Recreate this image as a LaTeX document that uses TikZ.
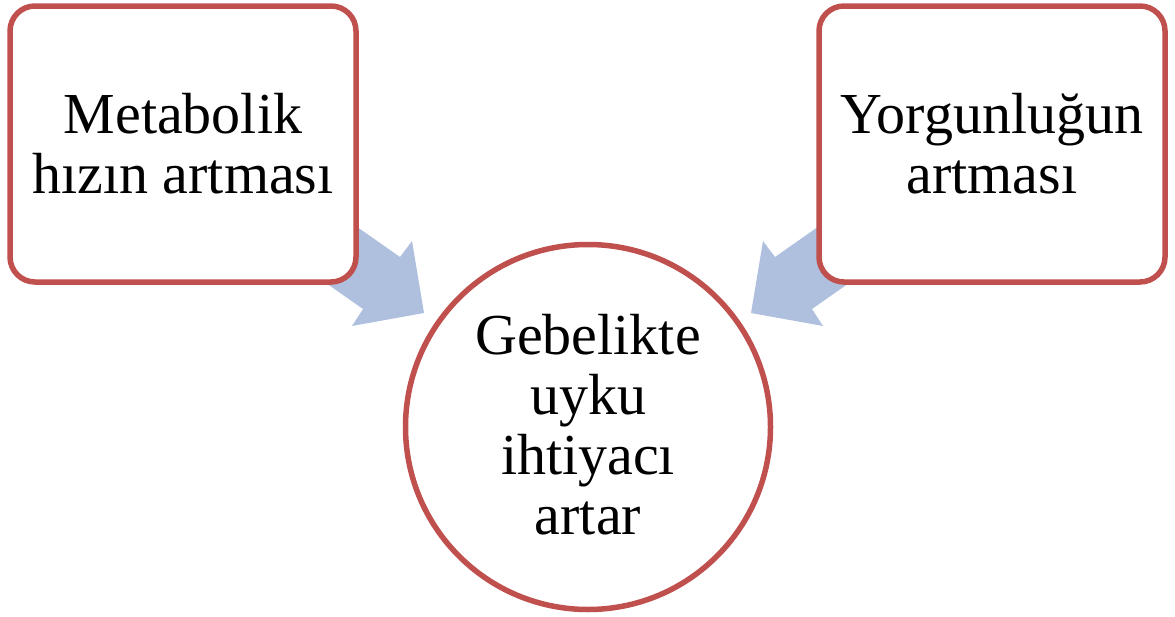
\documentclass[tikz,border=0pt]{standalone}
\usepackage{fontspec}
\setmainfont{Liberation Serif}
\definecolor{boxred}{RGB}{192,80,77}
\definecolor{arrowblue}{RGB}{174,192,221}
\begin{document}
\begin{tikzpicture}[x=1pt,y=-1pt,
  causebox/.style={draw=boxred, line width=5.5pt, fill=white, rounded corners=25pt},
  txt/.style={font=\fontsize{58}{60}\selectfont, align=center, inner sep=0pt, text=black},
  blockarrow/.style={fill=arrowblue, draw=none}]
\useasboundingbox (0,0) rectangle (1175,616);
% block arrows (drawn first, tails hidden under the boxes)
\fill[blockarrow] (318,199.5) -- (400,257) -- (412,241) -- (424,313) -- (352,326) -- (363,309) -- (281,251.5) -- cycle;
\fill[blockarrow] (857,199.5) -- (775,257) -- (763,241) -- (751,313) -- (823,326) -- (812,309) -- (894,251.5) -- cycle;
% boxes
\draw[causebox] (10,6) rectangle (356,282);
\draw[causebox] (819,6) rectangle (1165,282);
\node[txt] (left) at (183,144) {Metabolik\\hızın artması};
\node[txt] (right) at (992,144) {Yorgunluğun\\artması};
% circle
\draw[draw=boxred, line width=5.5pt, fill=white] (588,427) circle (182.5);
\node[txt] (center) at (588,425) {Gebelikte\\uyku\\ihtiyacı\\artar};
\end{tikzpicture}
\end{document}
